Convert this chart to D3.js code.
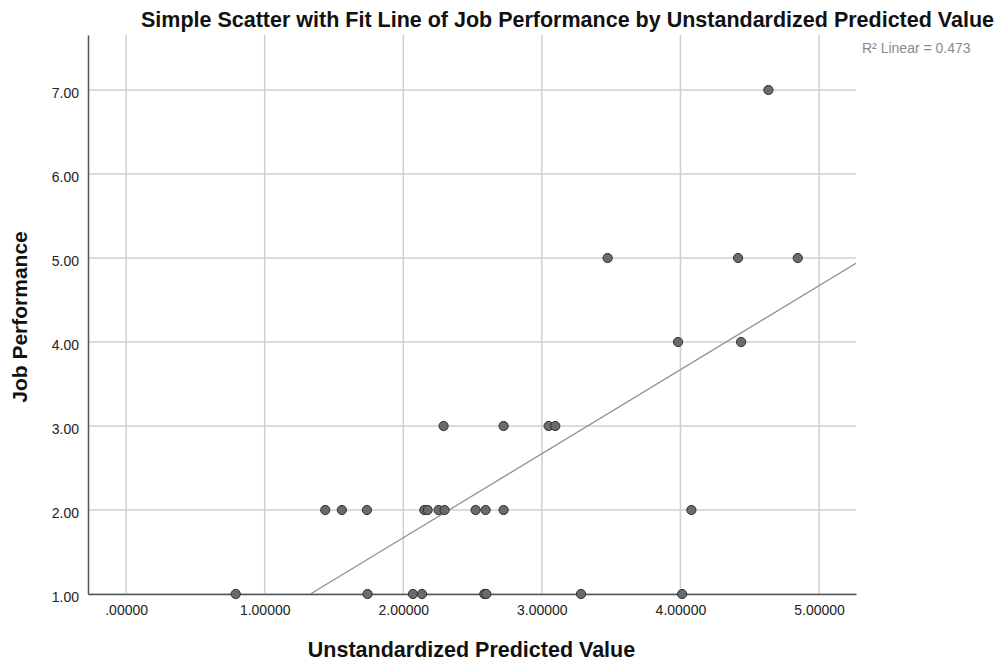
<!DOCTYPE html>
<html>
<head>
<meta charset="utf-8">
<script src="https://cdn.jsdelivr.net/npm/d3@7"></script>
<style>
  body { margin: 0; background: #fff; }
  svg { font-family: "Liberation Sans", Arial, sans-serif; }
</style>
</head>
<body>
<svg id="chart" width="1001" height="662"></svg>
<script>
// unstandardized predicted value (x) and job performance (y)
const predicted = [
    4.635,
    3.475, 4.416, 4.847,
    3.983, 4.438,
    2.291, 2.724, 3.049, 3.097,
    1.437, 1.557, 1.738, 2.152, 2.176, 2.255, 2.298, 2.522, 2.594, 2.724, 4.079,
    0.791, 1.742, 2.070, 2.135, 2.585, 2.599, 3.283, 4.012
];
const performance = [
    7,
    5, 5, 5,
    4, 4,
    3, 3, 3, 3,
    2, 2, 2, 2, 2, 2, 2, 2, 2, 2, 2,
    1, 1, 1, 1, 1, 1, 1, 1
];
const xTicks = [0, 1, 2, 3, 4, 5];
const yTicks = [1, 2, 3, 4, 5, 6, 7];
// fit line as drawn in the picture
const fitSlope = 1.0;
const fitIntercept = -0.33;
const r2Label = 'R\u00b2 Linear = 0.473';

const svg = d3.select('#chart');
const margin = {top: 35, right: 145, bottom: 68, left: 88};
const width = 1001, height = 662;

const x = d3.scaleLinear()
    .domain([-0.275, 5.267])
    .range([margin.left, width - margin.right]);
const y = d3.scaleLinear()
    .domain([1, 7.655])
    .range([height - margin.bottom, margin.top]);

const data = predicted.map((v, i) => ({x: v, y: performance[i]}));

// clip for the fit line
svg.append('clipPath').attr('id', 'plot-clip')
    .append('rect')
    .attr('x', x.range()[0]).attr('y', y.range()[1])
    .attr('width', x.range()[1] - x.range()[0])
    .attr('height', y.range()[0] - y.range()[1]);

// grid
const grid = svg.append('g');
grid.selectAll('.vgrid')
    .data(xTicks)
    .join('line')
    .attr('x1', d => x(d)).attr('x2', d => x(d))
    .attr('y1', y.range()[1]).attr('y2', y.range()[0])
    .attr('stroke', '#cfcfcf')
    .attr('stroke-width', 1.5);
grid.selectAll('.hgrid')
    .data(yTicks)
    .join('line')
    .attr('x1', x.range()[0]).attr('x2', x.range()[1])
    .attr('y1', d => y(d)).attr('y2', d => y(d))
    .attr('stroke', '#cfcfcf')
    .attr('stroke-width', 1.5);

// axes
const xAxis = svg.append('g')
    .attr('transform', `translate(0, ${y.range()[0]})`)
    .call(d3.axisBottom(x).tickValues(xTicks).tickSize(0).tickPadding(11)
        .tickFormat(d => d === 0 ? '.00000' : d3.format('.5f')(d)));
xAxis.select('.domain').attr('stroke', '#555').attr('stroke-width', 1.5);
xAxis.selectAll('text').style('font-size', '14px').attr('fill', '#222');

const yAxis = svg.append('g')
    .attr('transform', `translate(${x.range()[0]}, 0)`)
    .call(d3.axisLeft(y).tickValues(yTicks).tickSize(0).tickPadding(9)
        .tickFormat(d3.format('.2f')));
yAxis.select('.domain').attr('stroke', '#555').attr('stroke-width', 1.5);
yAxis.selectAll('text').style('font-size', '14px').attr('fill', '#222').attr('dy', '0.52em');

// fit line
const x0 = (y.domain()[0] - fitIntercept) / fitSlope;
const x1 = x.domain()[1];
svg.append('line')
    .attr('clip-path', 'url(#plot-clip)')
    .attr('x1', x(x0)).attr('y1', y(fitSlope * x0 + fitIntercept))
    .attr('x2', x(x1)).attr('y2', y(fitSlope * x1 + fitIntercept))
    .attr('stroke', '#8e8e8e')
    .attr('stroke-width', 1.2);

// points
svg.append('g')
    .selectAll('circle')
    .data(data)
    .join('circle')
    .attr('cx', d => x(d.x))
    .attr('cy', d => y(d.y))
    .attr('r', 4.6)
    .attr('fill', '#6b6b6b')
    .attr('stroke', '#2e2e2e')
    .attr('stroke-width', 1);

// titles
svg.append('text')
    .attr('x', 567.5)
    .attr('y', 27)
    .attr('text-anchor', 'middle')
    .style('font-size', '21.5px')
    .style('font-weight', 'bold')
    .attr('fill', '#111')
    .text('Simple Scatter with Fit Line of Job Performance by Unstandardized Predicted Value');

svg.append('text')
    .attr('x', 471.5)
    .attr('y', 657)
    .attr('text-anchor', 'middle')
    .style('font-size', '21.5px')
    .style('font-weight', 'bold')
    .attr('fill', '#111')
    .text('Unstandardized Predicted Value');

svg.append('text')
    .attr('transform', 'translate(27, 317) rotate(-90)')
    .attr('text-anchor', 'middle')
    .style('font-size', '21px')
    .style('font-weight', 'bold')
    .attr('fill', '#111')
    .text('Job Performance');

svg.append('text')
    .attr('x', 862)
    .attr('y', 53)
    .style('font-size', '14px')
    .attr('fill', '#8a8a8a')
    .text(r2Label);
</script>
</body>
</html>
